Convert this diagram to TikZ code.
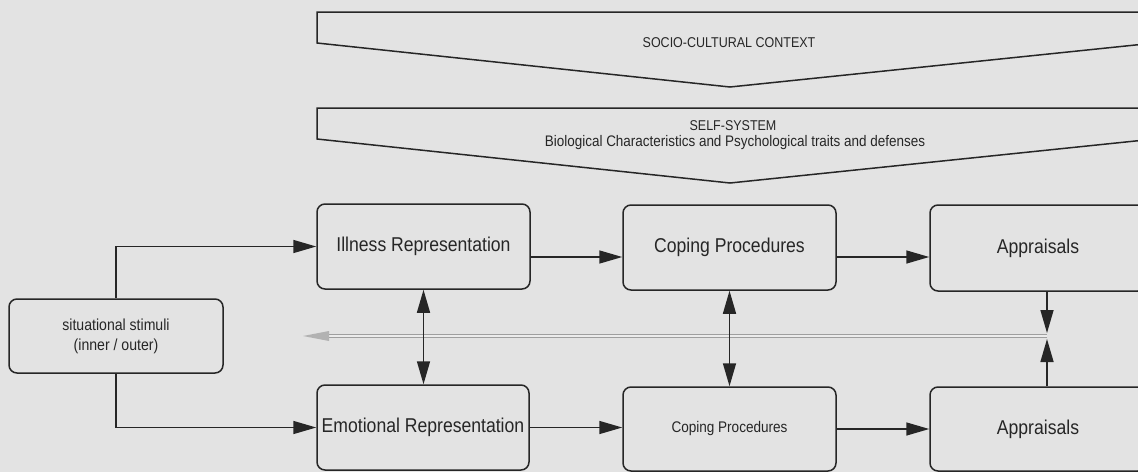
\documentclass[tikz,border=0pt]{standalone}
\usepackage{fontspec}
\setmainfont{Liberation Sans}[FakeStretch=0.88]
\usetikzlibrary{arrows.meta,calc}
\definecolor{bg}{HTML}{E3E3E3}
\definecolor{ink}{HTML}{262626}
\tikzset{
  box/.style={draw=ink, line width=1.5pt, rounded corners=8pt, align=center,
    inner sep=0pt, text=ink, font=\fontsize{20}{22}\selectfont},
  banner/.style={draw=ink, line width=1.5pt},
  conn/.style={draw=ink, line width=1.5pt},
  >={Triangle[length=23pt,width=13pt]},
  label/.style={text=ink, align=center, inner sep=0pt}
}
\begin{document}
\begin{tikzpicture}[x=1pt,y=-1pt]
\useasboundingbox (0,0) rectangle (1138,472);
\fill[bg] (0,0) rectangle (1138,472);
\clip (0,0) rectangle (1138,472);
% banners
\draw[banner] (317,43) -- (317,12) -- (1145,12) -- (1145,44) -- (730,87) -- cycle;
\draw[banner] (317,139) -- (317,108) -- (1145,108) -- (1145,140) -- (730,183) -- cycle;
\node[label, font=\fontsize{14.2}{16}\selectfont] (soc) at (729,43) {SOCIO-CULTURAL CONTEXT};
\node[label, font=\fontsize{14.2}{17}\selectfont] (selfs) at (733,126) {SELF-SYSTEM};
\node[label, font=\fontsize{15.3}{17}\selectfont] (bio) at (735,143) {Biological Characteristics and Psychological traits and defenses};
% boxes
\node[box, minimum width=214pt, minimum height=74pt, font=\fontsize{16}{20}\selectfont] (stim) at (116,336) {situational stimuli\\(inner / outer)};
\node[box, minimum width=213pt, minimum height=85pt] (ill) at (423.5,246.5) {Illness Representation};
\node[box, minimum width=213pt, minimum height=85pt] (cop1) at (729.5,247.5) {Coping Procedures};
\node[box, minimum width=216pt, minimum height=86pt] (app1) at (1038,248) {Appraisals};
\node[box, minimum width=212pt, minimum height=85pt] (emo) at (423,427.5) {Emotional Representation};
\node[box, minimum width=213pt, minimum height=84pt, font=\fontsize{15.4}{18}\selectfont] (cop2) at (729.5,429) {Coping Procedures};
\node[box, minimum width=216pt, minimum height=84pt] (app2) at (1038,429) {Appraisals};
% gray feedback line
\coordinate (av) at (1047,336);
\coordinate (gtip) at (303,336);
\draw[draw=gray!75, double=gray!15, double distance=1.8pt, line width=1.1pt, shorten >=14pt] (av) -- (gtip);
\fill[gray!60] (gtip) -- ++(26,-5) -- ++(0,10) -- cycle;
% connectors
\coordinate (r1) at (0,257);
\draw[conn,->] (stim.north) |- (ill.west);
\draw[conn,->] (stim.south) |- (emo.west);
\draw[conn,->] (ill.east |- r1) -- (cop1.west |- r1);
\draw[conn,->] (cop1.east |- r1) -- (app1.west |- r1);
\draw[conn,->] (emo.east) -- (cop2.west |- emo.east);
\draw[conn,->] (cop2.east) -- (app2.west);
\draw[conn,<->] (ill.south) -- (ill.south |- emo.north);
\draw[conn,<->] (cop1.south) -- (cop2.north);
\coordinate (avt) at (1047,333);
\coordinate (avb) at (1047,339);
\draw[conn,->] (app1.south -| avt) -- (avt);
\draw[conn,->] (app2.north -| avb) -- (avb);
\end{tikzpicture}
\end{document}
